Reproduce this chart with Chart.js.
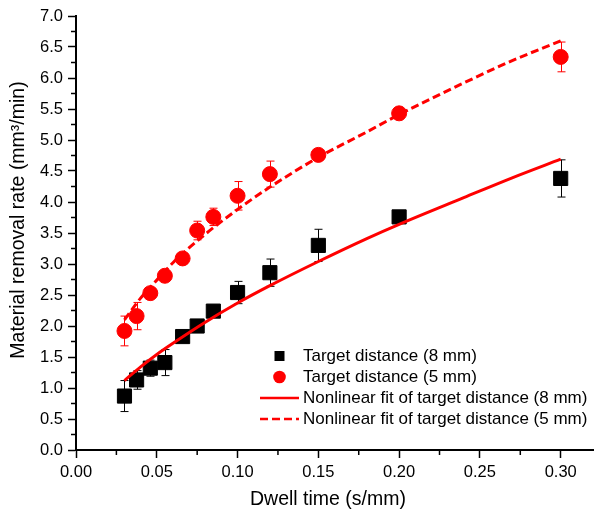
<!DOCTYPE html>
<html>
<head>
<meta charset="utf-8">
<script src="https://cdn.jsdelivr.net/npm/chart.js@4.4.1/dist/chart.umd.min.js"></script>
<style>
html, body { margin: 0; padding: 0; background: #fff; }
#wrap { position: relative; width: 604px; height: 512px; }
</style>
</head>
<body>
<div id="wrap"><canvas id="mrrChart"></canvas></div>
<script>
// measured points (dwell time in s/mm, removal rate in mm3/min)
const dwellTime = [0.03, 0.0375, 0.046, 0.055, 0.066, 0.075, 0.085, 0.10, 0.12, 0.15, 0.20, 0.30];
const mrr8mm = [0.87, 1.13, 1.32, 1.41, 1.83, 2.00, 2.24, 2.54, 2.86, 3.30, 3.76, 4.38];
const err8mm = [0.25, 0.15, 0.13, 0.21, 0.07, 0.07, 0.07, 0.18, 0.22, 0.26, 0.06, 0.30];
const mrr5mm = [1.92, 2.16, 2.53, 2.81, 3.09, 3.54, 3.76, 4.10, 4.45, 4.76, 5.43, 6.34];
const err5mm = [0.24, 0.22, 0.08, 0.08, 0.08, 0.15, 0.14, 0.23, 0.21, 0.05, 0.05, 0.24];

// fitted curves
const fitTime = [0.03, 0.04, 0.05, 0.06, 0.08, 0.10, 0.12, 0.15, 0.18, 0.20, 0.24, 0.27, 0.30];
const fit8mm = [1.12, 1.34, 1.54, 1.72, 2.06, 2.37, 2.65, 3.04, 3.41, 3.64, 4.07, 4.39, 4.69];
const fit5mm = [2.10, 2.45, 2.74, 3.02, 3.48, 3.88, 4.24, 4.72, 5.13, 5.41, 5.92, 6.28, 6.60];

const legendLabels = ['Target distance (8 mm)', 'Target distance (5 mm)',
    'Nonlinear fit of target distance (8 mm)', 'Nonlinear fit of target distance (5 mm)'];
const xTitle = 'Dwell time (s/mm)';
const yTitle = 'Material removal rate (mm\u00B3/min)';

// minor tick positions
const xMinor = [0.025, 0.075, 0.125, 0.175, 0.225, 0.275];
const yMinor = [];
for (let v = 0.25; v < 7; v += 0.5) yMinor.push(v);

const FONT = '"Liberation Sans", Arial, sans-serif';
const RED = '#ff0000';

function toPoints(xs, ys) {
    return xs.map((x, i) => ({ x: x, y: ys[i] }));
}

const errorBars = {
    id: 'errorBars',
    beforeDatasetsDraw(chart) {
        const ctx = chart.ctx, xs = chart.scales.x, ys = chart.scales.y;
        chart.data.datasets.forEach(ds => {
            if (!ds.errors) return;
            ctx.save();
            ctx.strokeStyle = ds.borderColor;
            ctx.lineWidth = 1;
            ctx.beginPath();
            ds.data.forEach((p, i) => {
                const px = Math.round(xs.getPixelForValue(p.x)) + 0.5;
                const top = ys.getPixelForValue(p.y + ds.errors[i]);
                const bot = ys.getPixelForValue(p.y - ds.errors[i]);
                ctx.moveTo(px, top); ctx.lineTo(px, bot);
                ctx.moveTo(px - 4, top); ctx.lineTo(px + 4, top);
                ctx.moveTo(px - 4, bot); ctx.lineTo(px + 4, bot);
            });
            ctx.stroke();
            ctx.restore();
        });
    }
};

const minorTicks = {
    id: 'minorTicks',
    afterDraw(chart) {
        const ctx = chart.ctx, xs = chart.scales.x, ys = chart.scales.y;
        const area = chart.chartArea;
        ctx.save();
        ctx.strokeStyle = '#000';
        ctx.lineWidth = 1.5;
        ctx.beginPath();
        xMinor.forEach(v => {
            const px = xs.getPixelForValue(v);
            ctx.moveTo(px, area.bottom); ctx.lineTo(px, area.bottom + 5);
        });
        yMinor.forEach(v => {
            const py = ys.getPixelForValue(v);
            ctx.moveTo(area.left, py); ctx.lineTo(area.left - 5, py);
        });
        ctx.stroke();
        ctx.restore();
    }
};

// axis titles sit a little off the plot centre in the original, so draw them here
const axisTitles = {
    id: 'axisTitles',
    afterDraw(chart) {
        const ctx = chart.ctx;
        ctx.save();
        ctx.fillStyle = '#000';
        ctx.font = '19.5px ' + FONT;
        ctx.textAlign = 'center';
        ctx.textBaseline = 'middle';
        ctx.fillText(xTitle, 328, 500);
        ctx.translate(19, 220);
        ctx.rotate(-Math.PI / 2);
        ctx.fillText(yTitle, 0, 0);
        ctx.restore();
    }
};

const insideLegend = {
    id: 'insideLegend',
    afterDraw(chart) {
        const ctx = chart.ctx;
        const rows = [356, 377, 398, 419];
        ctx.save();
        ctx.font = '17px ' + FONT;
        ctx.textBaseline = 'middle';
        ctx.fillStyle = '#000';
        chart.data.datasets.forEach((ds, i) => {
            const y = rows[i];
            if (ds.showLine === false) {
                ctx.fillStyle = ds.backgroundColor;
                if (ds.pointStyle === 'rect') {
                    ctx.fillRect(274.5, y - 5, 10, 10);
                } else {
                    ctx.beginPath();
                    ctx.arc(279.5, y, 6.3, 0, Math.PI * 2);
                    ctx.fill();
                }
            } else {
                ctx.strokeStyle = ds.borderColor;
                ctx.lineWidth = 2.5;
                ctx.setLineDash(ds.borderDash || []);
                ctx.beginPath();
                ctx.moveTo(260, y); ctx.lineTo(299, y);
                ctx.stroke();
                ctx.setLineDash([]);
            }
            ctx.fillStyle = '#000';
            ctx.fillText(ds.label, 303, y);
        });
        ctx.restore();
    }
};

const ctx = document.getElementById('mrrChart').getContext('2d');
new Chart(ctx, {
    type: 'scatter',
    data: {
        datasets: [
            {
                label: legendLabels[0], data: toPoints(dwellTime, mrr8mm), errors: err8mm,
                showLine: false, pointStyle: 'rect', pointRadius: 10,
                backgroundColor: '#000', borderColor: '#000', borderWidth: 1, order: 2
            },
            {
                label: legendLabels[1], data: toPoints(dwellTime, mrr5mm), errors: err5mm,
                showLine: false, pointStyle: 'circle', pointRadius: 7.5,
                backgroundColor: RED, borderColor: RED, borderWidth: 1, order: 2
            },
            {
                label: legendLabels[2], data: toPoints(fitTime, fit8mm),
                showLine: true, pointRadius: 0, borderColor: RED, borderWidth: 3,
                cubicInterpolationMode: 'monotone', order: 1
            },
            {
                label: legendLabels[3], data: toPoints(fitTime, fit5mm),
                showLine: true, pointRadius: 0, borderColor: RED, borderWidth: 3,
                borderDash: [8, 4], cubicInterpolationMode: 'monotone', order: 0
            }
        ]
    },
    options: {
        responsive: true,
        maintainAspectRatio: false,
        animation: false,
        layout: { padding: { top: 16, right: 1, left: 0, bottom: 0 } },
        plugins: {
            legend: { display: false },
            tooltip: { enabled: false }
        },
        scales: {
            x: {
                type: 'linear', min: 0, max: 0.32,
                afterFit(scale) { scale.height = 62; },
                border: { color: '#000', width: 2 },
                grid: { drawOnChartArea: false, drawTicks: true, tickLength: 8, tickColor: '#000', tickWidth: 1.5 },
                ticks: {
                    stepSize: 0.05, includeBounds: false, color: '#000', padding: 5, maxRotation: 0,
                    font: { family: FONT, size: 16.5 },
                    callback: v => Number(v).toFixed(2)
                }
            },
            y: {
                type: 'linear', min: 0, max: 7,
                afterFit(scale) { scale.width = 76; },
                border: { color: '#000', width: 2 },
                grid: { drawOnChartArea: false, drawTicks: true, tickLength: 8, tickColor: '#000', tickWidth: 1.5 },
                ticks: {
                    stepSize: 0.5, color: '#000', padding: 5,
                    font: { family: FONT, size: 16.5 },
                    callback: v => Number(v).toFixed(1)
                }
            }
        }
    },
    plugins: [errorBars, minorTicks, axisTitles, insideLegend]
});
</script>
</body>
</html>
